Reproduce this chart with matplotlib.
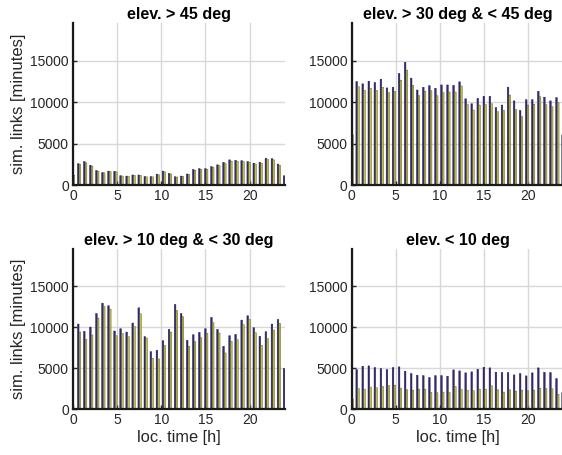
from matplotlib import pyplot as plt
import numpy as np

plt.rcParams['font.family'] = ['Liberation Sans', 'DejaVu Sans']

# 36 time bins over the day, the first and last sit on the axis edges
hours = np.linspace(0, 24, 36)

titles = ['elev. > 45 deg', 'elev. > 30 deg & < 45 deg',
          'elev. > 10 deg & < 30 deg', 'elev. < 10 deg']

blueSeries = [
    [1150, 2600, 2850, 2400, 1780, 1530, 1700, 1680, 1150, 1100, 1230, 1230, 1050,
     1040, 1330, 1700, 1420, 1020, 1100, 1350, 1900, 2000, 2000, 2250, 2450, 2750,
     3050, 3000, 2960, 2850, 2650, 2760, 3250, 3200, 2550, 1130],
    [6050, 12480, 12200, 12520, 12360, 12760, 11710, 11790, 13460, 14800, 12890, 11460,
     11790, 11990, 11670, 12070, 12070, 12030, 12440, 10400, 9800, 10450, 10700, 10700,
     9350, 9650, 11800, 10150, 9000, 10300, 10300, 11300, 10600, 10150, 10550, 6050],
    [4950, 10380, 9490, 10010, 11670, 12930, 12610, 9530, 9810, 9400, 10500, 12360,
     8840, 7010, 7170, 8350, 9730, 12770, 11670, 8390, 9080, 9360, 9810, 11190, 9730,
     7660, 8960, 9120, 10860, 11390, 9930, 8880, 9440, 10380, 10940, 4950],
    [1990, 4820, 5230, 5270, 5070, 4950, 4820, 5070, 5150, 4620, 4340, 4130, 4090,
     3850, 4090, 4090, 4010, 4780, 4660, 4420, 4540, 4860, 5110, 5030, 4500, 4460,
     4460, 4170, 4340, 4050, 4420, 5030, 4500, 4460, 3730, 1990],
]

yellowSeries = [
    [1200, 2500, 2700, 2300, 1680, 1480, 1650, 1600, 1100, 1050, 1180, 1180, 1000,
     1000, 1250, 1600, 1350, 980, 1050, 1280, 1800, 1900, 1920, 2150, 2350, 2600,
     2900, 2880, 2850, 2750, 2550, 2650, 3100, 3050, 2400, 1200],
    [6050, 11870, 11420, 11670, 11420, 11790, 11140, 11300, 12640, 13860, 12030, 10770,
     11300, 11380, 10770, 11140, 11220, 11220, 11950, 9700, 9050, 9650, 9700, 9800,
     8850, 9000, 10850, 9100, 8250, 9650, 9750, 10650, 9700, 9450, 9950, 6050],
    [0, 9400, 8510, 9040, 11110, 12520, 12200, 8960, 9240, 8840, 10090, 11630,
     8670, 6200, 6120, 7780, 9400, 12040, 11270, 7660, 8230, 8720, 9240, 10540, 9280,
     6850, 8270, 8470, 10300, 10940, 9320, 7780, 8590, 9650, 10460, 0],
    [1220, 2510, 2430, 2680, 2590, 2760, 2880, 2920, 2550, 2350, 2310, 2430, 2430,
     2030, 1990, 2070, 2030, 2760, 2390, 2310, 2230, 2430, 2430, 2840, 2350, 2070,
     2350, 2190, 2310, 2230, 2310, 2550, 2510, 2470, 1820, 1220],
]

xTicks = [0, 5, 10, 15, 20]
yTicks = [0, 5000, 10000, 15000]


def drawPanel(ax, blue, yellow, title, ylabel=None, xlabel=None):
    step = hours[1] - hours[0]
    # matlab style grouped bars: two bars per bin, no snapping so widths stay even
    ax.bar(hours - 0.145*step, blue, width=0.27*step, color='#33287e',
           edgecolor='#1c1840', linewidth=0.3, snap=False, zorder=2)
    ax.bar(hours + 0.145*step, yellow, width=0.27*step, color='#c4c23a',
           edgecolor='#4a4a20', linewidth=0.3, snap=False, zorder=2)

    ax.set_xlim(0, 24)
    ax.set_ylim(0, 19500)
    ax.set_xticks(xTicks)
    ax.set_yticks(yTicks)
    ax.grid(True, color='#d8d8d8', linewidth=1.0, zorder=0)
    ax.set_axisbelow(True)
    ax.spines[['top', 'right']].set_visible(False)
    ax.spines[['left', 'bottom']].set_linewidth(1.6)
    ax.spines[['left', 'bottom']].set_color('#1a1a1a')
    ax.tick_params(direction='in', length=3, width=1, labelsize=10, colors='#262626', pad=3)
    ax.set_title(title, fontsize=11.6, fontweight='bold', pad=3)
    if ylabel:
        ax.set_ylabel(ylabel, fontsize=12, color='#262626', labelpad=3)
    if xlabel:
        ax.set_xlabel(xlabel, fontsize=11.8, color='#262626', labelpad=2)


def main():
    fig = plt.figure(figsize=(5.62, 4.55), dpi=100)
    # the original is cropped on the right, so the right column runs off the edge
    positions = [
        [0.130, 0.593, 0.377, 0.356],
        [0.6255, 0.593, 0.377, 0.356],
        [0.130, 0.101, 0.377, 0.351],
        [0.6255, 0.101, 0.377, 0.351],
    ]
    for i in range(4):
        ax = fig.add_axes(positions[i])
        drawPanel(ax, blueSeries[i], yellowSeries[i], titles[i],
                  ylabel='sim. links [minutes]' if i % 2 == 0 else None,
                  xlabel='loc. time [h]' if i >= 2 else None)
    fig.savefig('out.png', dpi=100)


if __name__ == '__main__':
    main()
